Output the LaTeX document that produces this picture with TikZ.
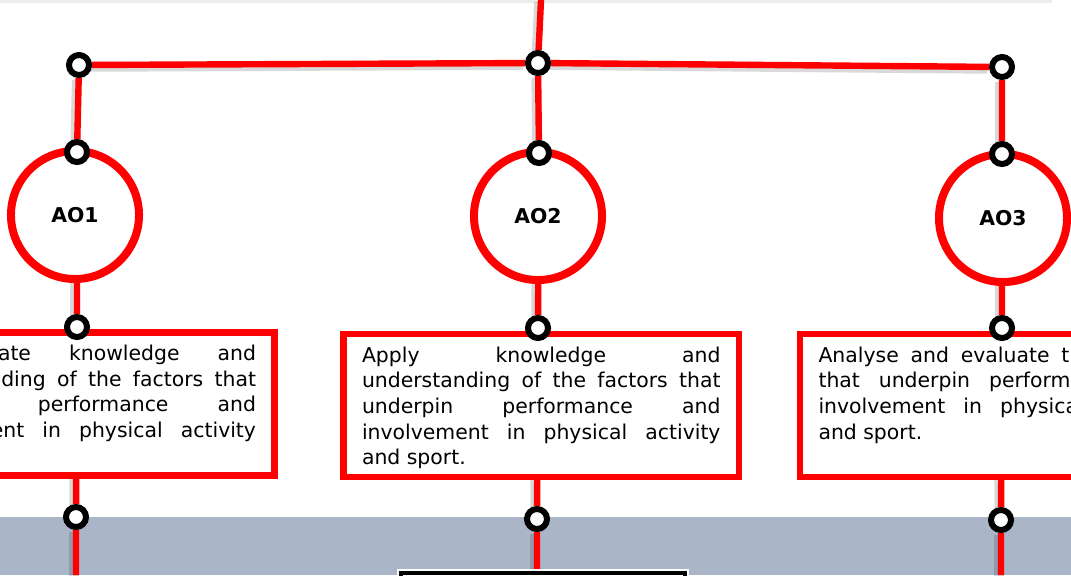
\documentclass[tikz,border=0pt]{standalone}
\usepackage{fontspec}
\setmainfont{DejaVu Sans}
\usetikzlibrary{shadows,backgrounds}
\definecolor{aored}{HTML}{FF0000}
\definecolor{bandgray}{HTML}{AAB5C7}
\tolerance=10000
\hyphenpenalty=10000

\begin{document}
\begin{tikzpicture}[x=0.025cm,y=-0.025cm]
\tikzstyle{wire}=[draw=aored,line width=0.16cm,preaction={draw=black,draw opacity=0.15,line width=0.24cm,transform canvas={xshift=-0.05cm,yshift=-0.05cm}}]
\tikzstyle{joint}=[circle,draw=black,fill=white,line width=0.15cm,minimum size=0.5cm,inner sep=0pt,drop shadow={shadow xshift=-0.06cm,shadow yshift=-0.06cm,opacity=0.3}]
\tikzstyle{aoring}=[circle,draw=aored,fill=white,line width=0.2cm,minimum size=3.2cm,inner sep=0pt,font=\fontsize{14.5}{18}\selectfont\bfseries,drop shadow={shadow xshift=-0.07cm,shadow yshift=-0.07cm,opacity=0.3}]
\tikzstyle{aobox}=[rectangle,draw=aored,fill=white,line width=0.17cm,text width=8.96cm,inner xsep=0.4625cm,inner ysep=0.14cm,text height=0.56cm,text depth=2.735cm,align=justify,font=\fontsize{14.5}{18.3}\selectfont,drop shadow={shadow xshift=-0.08cm,shadow yshift=-0.08cm,opacity=0.3}]
\tikzstyle{nextbox}=[rectangle,draw=black,fill=white,line width=0.1cm,minimum width=7.1cm,minimum height=1.5cm,preaction={draw=white,line width=0.2cm}]
\clip (0,0) rectangle (1071,575);
% the three rings
\node[aoring] (c1) at (75,215) {AO1};
\node[aoring] (c2) at (538,216) {AO2};
\node[aoring] (c3) at (1003,218) {AO3};
% the three boxes
\node[aobox] (a1) at (76.75,404) {Demonstrate knowledge and\linebreak understanding of the factors that\linebreak underpin performance and\linebreak involvement in physical activity\linebreak and sport.};
\node[aobox] (a2) at (541.25,405.5) {Apply knowledge and\linebreak understanding of the factors that\linebreak underpin performance and\linebreak involvement in physical activity\linebreak and sport.};
\node[aobox] (a3) at (997.75,405.5) {Analyse and evaluate the factors\linebreak that underpin performance and\linebreak involvement in physical activity\linebreak and sport.};
\node[nextbox] (n2) at (543,602.5) {};
% joints
\node[joint] (j1) at (79,65) {};
\node[joint] (j2) at (538,63) {};
\node[joint] (j3) at (1002,67) {};
\node[joint] (k1) at (77,152) {};
\node[joint] (k2) at (539,153) {};
\node[joint] (k3) at (1002,154) {};
\node[joint] (m1) at (77,327) {};
\node[joint] (m2) at (538,328) {};
\node[joint] (m3) at (1002,328) {};
\node[joint] (b1) at (76,517) {};
\node[joint] (b2) at (537,519) {};
\node[joint] (b3) at (1001,520) {};
\coordinate (feed) at (541,0);
\coordinate (e1) at (76,575);
\coordinate (e3) at (1001,575);
\begin{pgfonlayer}{background}
\clip (0,0) rectangle (1071,575);
\fill[white] (0,0) rectangle (1071,575);
\fill[black!7] (0,0) rectangle (1052,2.5);
\fill[bandgray] (0,517) rectangle (1071,575);
\draw[wire] (feed) -- (j2);
\draw[wire] (j1) -- (j2) -- (j3);
\draw[wire] (j1) -- (k1) -- (m1) -- (b1) -- (e1);
\draw[wire] (j2) -- (k2) -- (m2) -- (b2) -- (b2 |- n2.north);
\draw[wire] (j3) -- (k3) -- (m3) -- (b3) -- (e3);
\end{pgfonlayer}
\end{tikzpicture}
\end{document}
